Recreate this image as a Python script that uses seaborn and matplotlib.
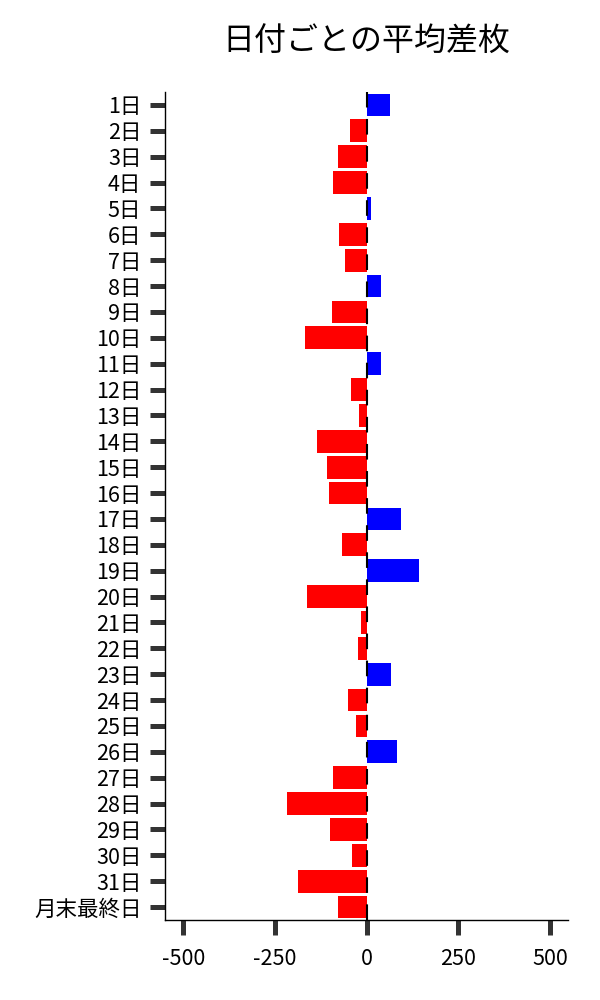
import numpy as np
import pandas as pd
import matplotlib
matplotlib.use('Agg')
import matplotlib.pyplot as plt
import seaborn as sns

# ---------- data ----------
days = [f'{i}日' for i in range(1, 32)] + ['月末最終日']
avg_diff = [64, -46, -79, -92, 13, -76, -60, 38, -95, -168,
            38, -43, -22, -136, -109, -103, 94, -68, 143, -163,
            -16, -24, 67, -52, -30, 84, -92, -217, -100, -40,
            -187, -78]
xticks = [-500, -250, 0, 250, 500]

df = pd.DataFrame({'day': days, 'diff': avg_diff})
colors = ['#0000ff' if v > 0 else '#ff0000' for v in df['diff']]

# ---------- style ----------
sns.set_theme(style='ticks')
plt.rcParams['font.family'] = ['Noto Sans CJK JP', 'DejaVu Sans']
plt.rcParams['axes.unicode_minus'] = False
plt.rcParams['text.color'] = 'black'
plt.rcParams['xtick.labelcolor'] = 'black'
plt.rcParams['ytick.labelcolor'] = 'black'

fig, ax = plt.subplots(figsize=(6, 10), dpi=100)
fig.subplots_adjust(left=0.275, right=0.947, top=0.908, bottom=0.08)

sns.barplot(data=df, x='diff', y='day', hue='day', palette=colors,
            legend=False, orient='h', width=0.88, saturation=1,
            linewidth=0, ax=ax)
ax.axvline(0, color='black', linewidth=1.5, linestyle=(0, (7.5, 5.5)), zorder=5)

ax.set_xlim(-550, 550)
ax.set_ylim(len(days) - 0.5, -0.5)
ax.set_xticks(xticks)
ax.set_xticklabels([str(t) for t in xticks])
ax.set_xlabel('')
ax.set_ylabel('')
ax.tick_params(axis='both', labelsize=15.5, length=11, width=3.6,
               color='#333333', pad=6)
ax.tick_params(axis='x', pad=9)
for s in ['left', 'bottom']:
    ax.spines[s].set_color('black')
    ax.spines[s].set_linewidth(1.0)
sns.despine(ax=ax)

ax.set_title('日付ごとの平均差枚', fontsize=23, pad=30)

plt.savefig('out.png', dpi=100)
